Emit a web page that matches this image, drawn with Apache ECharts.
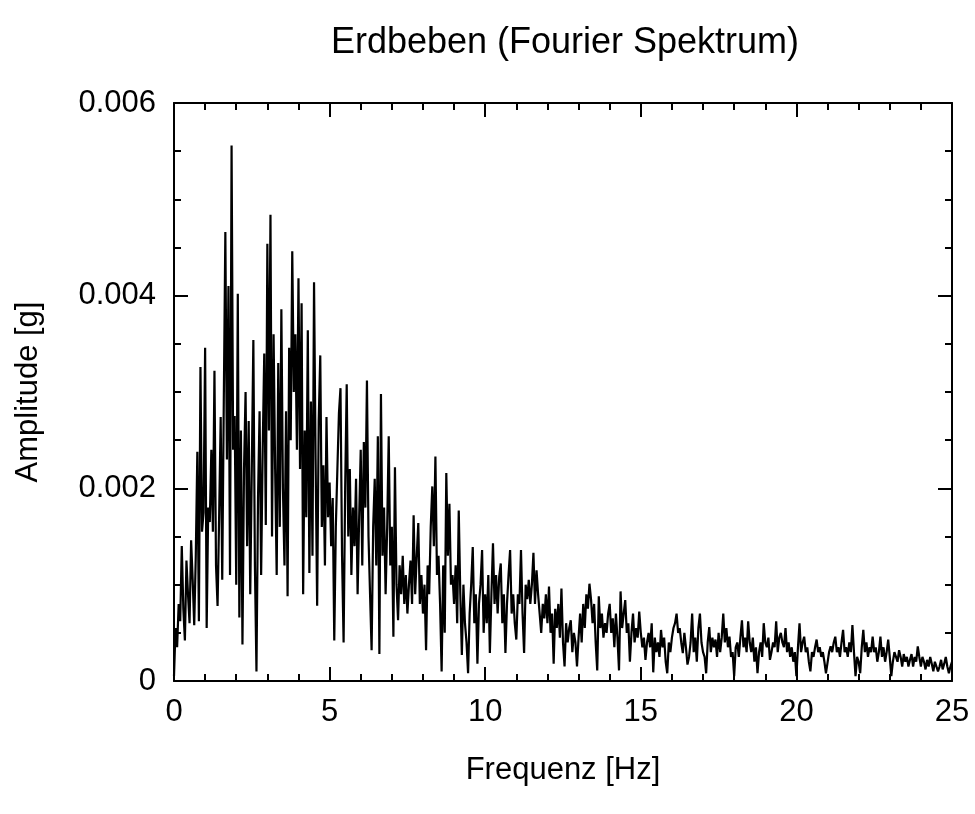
<!DOCTYPE html>
<html>
<head>
<meta charset="utf-8">
<script src="https://cdn.jsdelivr.net/npm/echarts@6/dist/echarts.min.js"></script>
<style>
html,body{margin:0;padding:0;background:#fff;}
#chart{width:975px;height:814px;}
</style>
</head>
<body>
<div id="chart"></div>
<script>
// Frequency grid: 0 .. 25 Hz, step 0.05 Hz
const FREQ_STEP = 0.05;
// Amplitudes in units of 0.001 g, 20 values per Hz
const amp00to05 = [
  0.05,0.55,0.35,0.80,0.62,1.40,0.75,0.42,1.25,0.90,0.60,1.46,1.05,0.58,1.30,2.38,0.62,3.26,1.55,1.75,
  3.46,0.55,1.80,1.65,2.40,1.55,3.22,1.20,0.78,1.70,2.74,1.05,2.90,4.66,2.30,4.10,1.10,5.56,2.40,2.75,
  1.00,4.02,0.66,2.60,0.38,2.20,3.00,1.40,2.70,0.90,2.20,3.54,1.20,0.10,1.90,2.80,1.10,2.40,3.40,1.62,
  4.54,2.60,4.84,1.50,3.60,2.20,1.10,3.30,1.60,3.86,2.00,1.20,2.80,0.88,3.46,2.50,4.46,3.00,3.60,2.40,
  4.18,2.20,3.92,0.90,2.60,1.70,3.64,1.12,2.90,1.30,4.14,2.30,0.78,2.70,3.38,1.60,2.24,1.20,2.74,1.70
];
const amp05to10 = [
  2.06,1.40,1.90,0.42,1.60,2.20,2.78,3.04,1.30,0.40,2.00,3.08,1.50,2.20,1.10,1.80,1.40,2.10,0.90,1.70,
  2.40,1.20,2.48,1.80,3.12,1.50,0.90,0.32,1.60,2.10,1.20,2.54,0.28,2.98,1.30,1.80,0.90,1.60,2.54,1.20,
  1.60,0.46,2.22,1.00,0.63,1.20,0.90,1.30,0.80,1.10,0.70,1.00,1.25,0.80,1.72,0.90,1.30,1.64,0.80,1.10,
  0.70,1.00,0.32,1.20,0.90,1.60,2.02,1.40,2.33,1.10,1.30,0.80,0.10,1.20,0.50,2.16,1.30,1.84,1.00,1.10,
  0.80,1.20,0.60,1.77,0.90,0.27,1.00,0.60,0.40,0.08,0.70,1.00,1.39,0.60,0.90,0.18,0.80,1.00,1.36,0.50
];
const amp10to15 = [
  0.90,0.60,1.10,0.29,0.90,1.43,0.80,1.10,0.70,1.08,1.22,0.60,0.90,0.29,0.80,1.10,1.36,0.70,0.90,0.60,
  0.43,0.90,0.80,1.36,0.70,0.29,1.00,0.85,1.05,0.80,1.00,1.33,0.80,1.15,0.90,0.70,0.50,0.80,0.65,0.90,
  0.60,0.98,0.50,0.70,0.18,0.75,0.55,0.80,0.45,0.96,0.40,0.15,0.60,0.40,0.55,0.63,0.30,0.50,0.40,0.15,
  0.45,0.70,0.40,0.80,0.55,0.90,0.75,1.01,0.85,0.60,0.80,0.40,0.11,0.88,0.55,0.70,0.45,0.60,0.50,0.70,
  0.80,0.50,0.65,0.35,0.70,0.45,0.11,0.93,0.55,0.70,0.84,0.50,0.60,0.20,0.50,0.70,0.40,0.55,0.45,0.72
];
const amp15to20 = [
  0.50,0.35,0.45,0.22,0.40,0.50,0.35,0.60,0.09,0.45,0.30,0.40,0.25,0.53,0.35,0.45,0.20,0.08,0.40,0.30,
  0.45,0.55,0.60,0.70,0.50,0.55,0.40,0.29,0.50,0.35,0.17,0.25,0.40,0.70,0.30,0.45,0.20,0.55,0.70,0.40,
  0.30,0.25,0.08,0.40,0.56,0.30,0.45,0.35,0.43,0.25,0.50,0.30,0.45,0.70,0.40,0.55,0.35,0.46,0.25,0.30,
  0.05,0.35,0.40,0.25,0.45,0.63,0.35,0.45,0.30,0.62,0.40,0.30,0.45,0.20,0.35,0.08,0.30,0.40,0.25,0.60,
  0.40,0.35,0.45,0.22,0.30,0.40,0.35,0.62,0.30,0.45,0.50,0.40,0.35,0.55,0.30,0.40,0.25,0.35,0.20,0.30
];
const amp20to25 = [
  0.05,0.35,0.60,0.30,0.40,0.46,0.30,0.35,0.20,0.10,0.30,0.25,0.35,0.43,0.30,0.35,0.25,0.30,0.20,0.08,
  0.08,0.30,0.36,0.30,0.40,0.46,0.30,0.35,0.25,0.40,0.53,0.30,0.35,0.25,0.40,0.30,0.58,0.30,0.05,0.25,
  0.20,0.08,0.35,0.53,0.30,0.40,0.25,0.35,0.30,0.46,0.30,0.35,0.20,0.30,0.46,0.25,0.35,0.20,0.30,0.43,
  0.25,0.05,0.20,0.30,0.25,0.20,0.32,0.25,0.15,0.28,0.20,0.25,0.15,0.22,0.28,0.15,0.25,0.20,0.36,0.25,
  0.15,0.25,0.20,0.12,0.22,0.15,0.25,0.18,0.10,0.20,0.18,0.10,0.15,0.22,0.12,0.18,0.25,0.15,0.08,0.15,
  0.20
];
const xTicks = [0, 5, 10, 15, 20, 25];
const yTicks = [0, 0.002, 0.004, 0.006];

const ampMilliG = [].concat(amp00to05, amp05to10, amp10to15, amp15to20, amp20to25);
const seriesData = ampMilliG.map((v, i) => [+(i * FREQ_STEP).toFixed(2), v / 1000]);

const FONT = '"Liberation Sans", Arial, Helvetica, sans-serif';
const chart = echarts.init(document.getElementById('chart'), null, {renderer: 'canvas'});

function xAx(pos, showLabel) {
  return {
    type: 'value', position: pos, min: xTicks[0], max: xTicks[xTicks.length - 1], interval: 5,
    axisLine: {show: true, onZero: false, lineStyle: {color: '#000', width: 2}},
    axisTick: {show: true, inside: true, length: 14, lineStyle: {color: '#000', width: 2}},
    minorTick: {show: true, splitNumber: 5, length: 7, lineStyle: {color: '#000', width: 2}},
    splitLine: {show: false},
    axisLabel: {show: showLabel, color: '#000', fontFamily: FONT, fontSize: 31, margin: 16},
    name: showLabel ? 'Frequenz [Hz]' : '', nameLocation: 'middle', nameGap: 74,
    nameTextStyle: {color: '#000', fontFamily: FONT, fontSize: 31}
  };
}
function yAx(pos, showLabel) {
  return {
    type: 'value', position: pos, min: yTicks[0], max: yTicks[yTicks.length - 1], interval: 0.002,
    axisLine: {show: true, onZero: false, lineStyle: {color: '#000', width: 2}},
    axisTick: {show: true, inside: true, length: 14, lineStyle: {color: '#000', width: 2}},
    minorTick: {show: true, splitNumber: 4, length: 7, lineStyle: {color: '#000', width: 2}},
    splitLine: {show: false},
    axisLabel: {show: showLabel, color: '#000', fontFamily: FONT, fontSize: 31, margin: 18,
      formatter: v => (Math.abs(v) < 1e-12 ? '0' : v.toFixed(3))},
    name: showLabel ? 'Amplitude [g]' : '', nameLocation: 'middle', nameGap: 130, nameRotate: 90,
    nameTextStyle: {color: '#000', fontFamily: FONT, fontSize: 31}
  };
}

chart.setOption({
  animation: false,
  backgroundColor: '#fff',
  title: {
    text: 'Erdbeben (Fourier Spektrum)', left: 560, top: 20, textAlign: 'center',
    textStyle: {color: '#000', fontFamily: FONT, fontSize: 36, fontWeight: 'normal'}
  },
  grid: {left: 174, right: 23, top: 103, bottom: 133, containLabel: false, outerBoundsMode: 'none'},
  xAxis: [xAx('bottom', true), xAx('top', false)],
  yAxis: [yAx('left', true), yAx('right', false)],
  series: [{
    type: 'line', data: seriesData, xAxisIndex: 0, yAxisIndex: 0,
    showSymbol: false, symbol: 'none', sampling: null,
    lineStyle: {color: '#000', width: 2.2}
  }]
});
</script>
</body>
</html>
